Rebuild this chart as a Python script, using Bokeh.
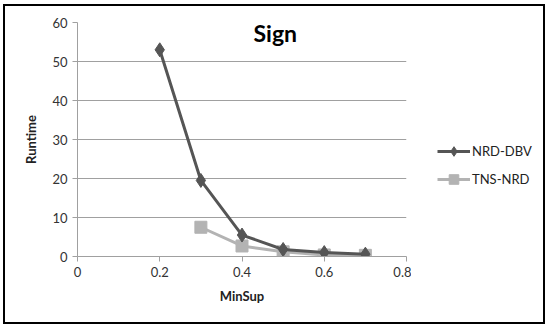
from bokeh.plotting import figure
from bokeh.layouts import row
from bokeh.models import FixedTicker, Label, Legend, LegendItem
from bokeh.embed import file_html
from bokeh.resources import INLINE

minsup_dbv = [0.2, 0.3, 0.4, 0.5, 0.6, 0.7]
runtime_dbv = [53.0, 19.5, 5.5, 1.8, 1.0, 0.6]
minsup_tns = [0.3, 0.4, 0.5, 0.6, 0.7]
runtime_tns = [7.5, 2.7, 1.2, 0.4, 0.3]
x_ticks = [0, 0.2, 0.4, 0.6, 0.8]
x_tick_labels = ["0", "0.2", "0.4", "0.6", "0.8"]
y_ticks = [0, 10, 20, 30, 40, 50, 60]
series_names = ["NRD-DBV", "TNS-NRD"]

FONT = "Lato"
dark = "#555555"
light = "#b3b3b3"

p = figure(width=406, height=316, output_backend="svg", toolbar_location=None,
           x_range=(0, 0.8), y_range=(0, 60),
           min_border_left=72, min_border_right=5, min_border_top=16, min_border_bottom=66)
p.outline_line_color = None
p.background_fill_color = "white"
p.border_fill_color = "white"

p.xgrid.visible = False
p.ygrid.grid_line_color = "#a0a0a0"
p.ygrid.grid_line_width = 1

p.xaxis.ticker = FixedTicker(ticks=x_ticks)
p.xaxis.major_label_overrides = {t: l for t, l in zip(x_ticks, x_tick_labels)}
p.yaxis.ticker = FixedTicker(ticks=y_ticks)
for ax in (p.xaxis, p.yaxis):
    ax.axis_line_color = "#a0a0a0"
    ax.major_tick_line_color = "#a0a0a0"
    ax.major_tick_out = 5
    ax.major_tick_in = 0
    ax.minor_tick_line_color = None
    ax.major_label_text_font = FONT
    ax.major_label_text_font_size = "13px"
    ax.major_label_text_color = "#333333"
    ax.axis_label_text_font = FONT
    ax.axis_label_text_font_size = "13px"
    ax.axis_label_text_font_style = "bold"
    ax.axis_label_text_color = "#222222"
p.xaxis.axis_label = "MinSup"
p.yaxis.axis_label = "Runtime"
p.xaxis.axis_label_standoff = 8
p.yaxis.axis_label_standoff = 10

p.line(minsup_tns, runtime_tns, line_color=light, line_width=3)
p.scatter(minsup_tns, runtime_tns, marker="square", size=12, fill_color=light, line_color=light)
p.line(minsup_dbv, runtime_dbv, line_color=dark, line_width=3)
p.scatter(minsup_dbv, runtime_dbv, marker="diamond", size=14, fill_color=dark, line_color=dark)

title = Label(x=0.481, y=57.2, text="Sign", text_font=FONT, text_font_size="23px",
              text_font_style="bold", text_align="center", text_baseline="middle",
              text_color="#000000")
p.add_layout(title)

# legend panel (its series copies sit outside its visible y range)
lf = figure(width=132, height=316, output_backend="svg", toolbar_location=None,
            x_range=(0, 1), y_range=(1000, 1001), min_border=0)
lf.axis.visible = False
lf.grid.visible = False
lf.outline_line_color = None
lf.background_fill_color = "white"
lf.border_fill_color = "white"
ll1 = lf.line(minsup_dbv, runtime_dbv, line_color=dark, line_width=3)
lm1 = lf.scatter(minsup_dbv, runtime_dbv, marker="diamond", size=11, fill_color=dark, line_color=dark)
ll2 = lf.line(minsup_tns, runtime_tns, line_color=light, line_width=3)
lm2 = lf.scatter(minsup_tns, runtime_tns, marker="square", size=9, fill_color=light, line_color=light)

legend = Legend(items=[LegendItem(label=series_names[0], renderers=[ll1, lm1]),
                       LegendItem(label=series_names[1], renderers=[ll2, lm2])],
                location=(26, 65), border_line_color=None, background_fill_alpha=0,
                padding=0, margin=0, spacing=4, glyph_width=33, glyph_height=24,
                label_height=24, label_text_font=FONT, label_text_font_size="13px",
                label_text_color="#222222", label_standoff=2)
lf.add_layout(legend)

layout = row(p, lf)
layout.styles = {"border": "2px solid black", "margin-left": "3px", "margin-top": "4px",
                 "background-color": "white"}

open("out.html", "w").write(file_html(layout, INLINE))
